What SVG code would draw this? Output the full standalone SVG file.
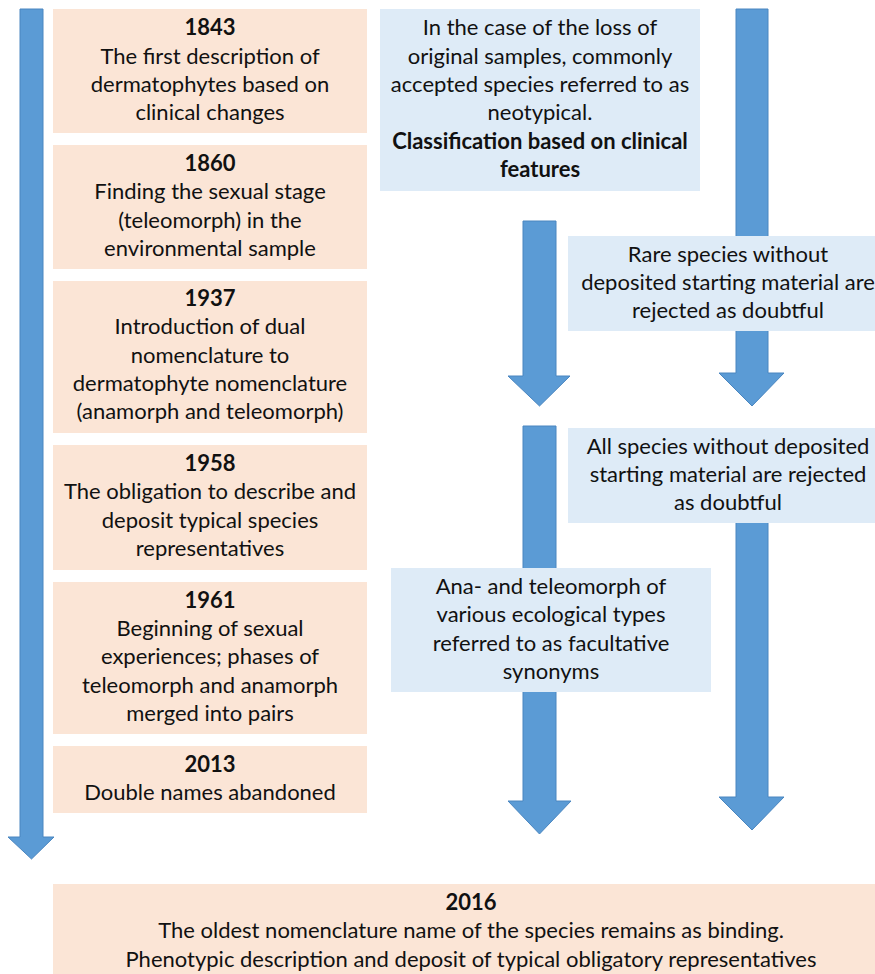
<svg xmlns="http://www.w3.org/2000/svg" width="875" height="974" viewBox="0 0 875 974">
<style>
.arrow{fill:#5B9BD5;stroke:#4A86C0;stroke-width:1}
.peach{fill:#FBE5D6}
.blue{fill:#DEEBF7}
text{font-family:Lato,"Liberation Sans",sans-serif;font-size:22px;fill:#111;text-anchor:middle}
.b{font-weight:bold}
</style>
<rect width="875" height="974" fill="#fff"/>
<g id="connectors">
<path class="arrow" d="M20,9 H43 V837 H54 L31.5,859 L8,837 H20 Z"/>
<path class="arrow" d="M523,221 H556 V376 H570 L539.5,406 L508,376 H523 Z"/>
<path class="arrow" d="M523,426 H556 V801 H571 L539.5,834 L508,801 H523 Z"/>
<path class="arrow" d="M736,9 H768 V373 H784 L752,406 L719,373 H736 Z"/>
<path class="arrow" d="M736,470 H768 V797 H784 L752,830 L719,797 H736 Z"/>
</g>
<g id="n1843">
<rect class="peach" x="53" y="9" width="314" height="124"/>
<text x="210" y="35"><tspan class="b">1843</tspan><tspan x="210" y="64">The first description of</tspan><tspan x="210" y="92">dermatophytes based on</tspan><tspan x="210" y="120">clinical changes</tspan></text>
</g>
<g id="n1860">
<rect class="peach" x="53" y="145" width="314" height="124"/>
<text x="210" y="171"><tspan class="b">1860</tspan><tspan x="210" y="199">Finding the sexual stage</tspan><tspan x="210" y="228">(teleomorph) in the</tspan><tspan x="210" y="256">environmental sample</tspan></text>
</g>
<g id="n1937">
<rect class="peach" x="53" y="281" width="314" height="152"/>
<text x="210" y="306"><tspan class="b">1937</tspan><tspan x="210" y="334">Introduction of dual</tspan><tspan x="210" y="363">nomenclature to</tspan><tspan x="210" y="391">dermatophyte nomenclature</tspan><tspan x="210" y="419">(anamorph and teleomorph)</tspan></text>
</g>
<g id="n1958">
<rect class="peach" x="53" y="445" width="314" height="125"/>
<text x="210" y="471"><tspan class="b">1958</tspan><tspan x="210" y="499">The obligation to describe and</tspan><tspan x="210" y="528">deposit typical species</tspan><tspan x="210" y="556">representatives</tspan></text>
</g>
<g id="n1961">
<rect class="peach" x="53" y="582" width="314" height="152"/>
<text x="210" y="608"><tspan class="b">1961</tspan><tspan x="210" y="636">Beginning of sexual</tspan><tspan x="210" y="664">experiences; phases of</tspan><tspan x="210" y="693">teleomorph and anamorph</tspan><tspan x="210" y="721">merged into pairs</tspan></text>
</g>
<g id="n2013">
<rect class="peach" x="53" y="746" width="314" height="67"/>
<text x="210" y="772"><tspan class="b">2013</tspan><tspan x="210" y="800">Double names abandoned</tspan></text>
</g>
<g id="neotype">
<rect class="blue" x="380" y="9" width="320" height="182"/>
<text x="540" y="35"><tspan>In the case of the loss of</tspan><tspan x="540" y="64">original samples, commonly</tspan><tspan x="540" y="92">accepted species referred to as</tspan><tspan x="540" y="120">neotypical.</tspan><tspan x="540" y="149" class="b">Classification based on clinical</tspan><tspan x="540" y="177" class="b">features</tspan></text>
</g>
<g id="rare">
<rect class="blue" x="568" y="236" width="320" height="95"/>
<text x="728" y="262"><tspan>Rare species without</tspan><tspan x="728" y="290">deposited starting material are</tspan><tspan x="728" y="318">rejected as doubtful</tspan></text>
</g>
<g id="allspecies">
<rect class="blue" x="568" y="428" width="320" height="95"/>
<text x="728" y="454"><tspan>All species without deposited</tspan><tspan x="728" y="482">starting material are rejected</tspan><tspan x="728" y="510">as doubtful</tspan></text>
</g>
<g id="anatele">
<rect class="blue" x="391" y="568" width="320" height="124"/>
<text x="551" y="594"><tspan>Ana- and teleomorph of</tspan><tspan x="551" y="622">various ecological types</tspan><tspan x="551" y="651">referred to as facultative</tspan><tspan x="551" y="679">synonyms</tspan></text>
</g>
<g id="n2016">
<rect class="peach" x="53" y="884" width="836" height="95"/>
<text x="471" y="910"><tspan class="b">2016</tspan><tspan x="471" y="938">The oldest nomenclature name of the species remains as binding.</tspan><tspan x="471" y="967">Phenotypic description and deposit of typical obligatory representatives</tspan></text>
</g>
</svg>
